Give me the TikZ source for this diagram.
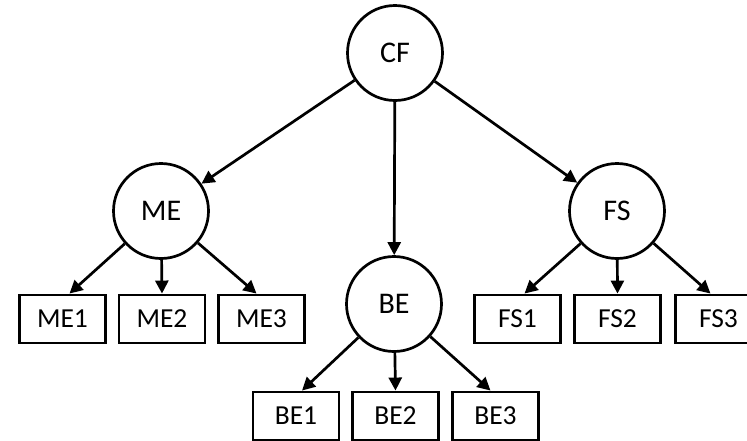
\documentclass[tikz,border=0pt]{standalone}
\usepackage{fontspec}
\setmainfont{Carlito}
\usetikzlibrary{arrows.meta}
\tikzset{
  circ/.style={circle, draw=black, line width=2.7pt, fill=white, minimum size=95pt, inner sep=0pt, font=\fontsize{30}{33}\selectfont},
  box/.style={rectangle, draw=black, line width=2.9pt, fill=white, minimum width=86pt, minimum height=48pt, inner sep=0pt, font=\fontsize{27.5}{30}\selectfont},
  arr/.style={line width=2.7pt, -{Triangle[length=13pt,width=13pt]}}
}
\begin{document}
\begin{tikzpicture}[x=1pt,y=-1pt]
\useasboundingbox (0,0) rectangle (747,440);
\clip (0,0) rectangle (747,440);
\node[circ] (CF) at (395,53) {CF};
\node[circ] (ME) at (161,211) {ME};
\node[circ] (FS) at (617,211) {FS};
\node[circ] (BE) at (394,304) {BE};
\node[box] (ME1) at (62.5,319) {ME1};
\node[box] (ME2) at (162,319) {ME2};
\node[box] (ME3) at (261.5,319) {ME3};
\node[box] (FS1) at (517.5,319) {FS1};
\node[box] (FS2) at (617.5,319) {FS2};
\node[box] (FS3) at (718.5,319) {FS3};
\node[box] (BE1) at (296,416) {BE1};
\node[box] (BE2) at (395.5,416) {BE2};
\node[box] (BE3) at (495.5,416) {BE3};
\draw[arr] (CF) -- (ME);
\draw[arr] (CF) -- (FS);
\draw[arr] (CF) -- (BE);
\draw[arr] (ME) -- ([xshift=7pt]ME1.north);
\draw[arr] (ME) -- (ME2.north);
\draw[arr] (ME) -- ([xshift=-5pt]ME3.north);
\draw[arr] (FS) -- ([xshift=7pt]FS1.north);
\draw[arr] (FS) -- (FS2.north);
\draw[arr] (FS) -- ([xshift=-8pt]FS3.north);
\draw[arr] (BE) -- ([xshift=6pt]BE1.north);
\draw[arr] (BE) -- (BE2.north);
\draw[arr] (BE) -- ([xshift=-5pt]BE3.north);
\end{tikzpicture}
\end{document}
